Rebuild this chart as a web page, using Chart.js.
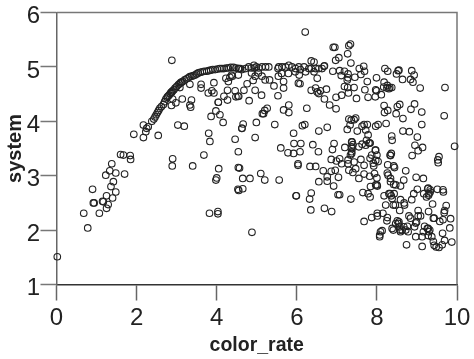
<!DOCTYPE html>
<html lang="en">
<head>
    <meta charset="UTF-8">
    <title>system by color_rate</title>
    <script src="https://cdn.jsdelivr.net/npm/chart.js"></script>
    <style>
        body { margin: 0; background: #fff; }
        #wrap { width: 474px; height: 359px; }
    </style>
</head>
<body>
    <div id="wrap"><canvas id="grafica"></canvas></div>
    <script>
        // values, [color_rate, system]
        const leftPoints = [[0.02,1.51],[0.68,2.31],[0.78,2.04],[0.90,2.75],[0.92,2.50],[0.94,2.50],[1.07,2.31],[1.15,2.53],[1.17,2.52],[1.25,2.63],[1.25,2.40],[1.29,2.47],[1.23,3.01],[1.33,3.09],[1.36,2.80],[1.38,3.22],[1.40,2.59],[1.42,2.89],[1.48,3.05],[1.48,2.70],[1.60,3.39],[1.67,3.38],[1.70,3.03],[1.84,3.37],[1.85,3.30],[1.93,3.76],[2.17,3.93],[2.17,3.70]];
        const curvePoints = [[2.23,3.81],[2.25,3.87],[2.29,3.90],[2.38,4.0],[2.43,4.04],[2.46,4.08],[2.49,4.12],[2.52,4.16],[2.55,4.2],[2.58,4.24],[2.62,4.27],[2.67,4.31],[2.7,4.36],[2.73,4.41],[2.76,4.44],[2.78,4.46],[2.81,4.48],[2.84,4.51],[2.86,4.53],[2.88,4.54],[2.9,4.56],[2.93,4.58],[2.96,4.61],[3.0,4.64],[3.04,4.67],[3.07,4.69],[3.1,4.71],[3.12,4.72],[3.15,4.73],[3.2,4.76],[3.25,4.78],[3.29,4.8],[3.33,4.82],[3.38,4.83],[3.42,4.84],[3.46,4.85],[3.5,4.87],[3.54,4.89],[3.59,4.9],[3.64,4.91],[3.69,4.92],[3.75,4.92],[3.8,4.93],[3.85,4.94],[3.9,4.95],[3.96,4.95],[4.02,4.96],[4.08,4.97],[4.13,4.97],[4.18,4.97],[4.24,4.98],[4.29,4.98],[4.35,4.99],[4.42,4.99],[4.48,4.98],[4.54,4.97]];
        const bandPoints = [[4.55,4.97],[4.59,4.97],[4.63,4.95],[4.72,4.97],[4.80,5.0],[4.86,4.98],[4.93,5.03],[4.94,4.98],[4.99,5.0],[5.05,4.98],[5.13,5.0],[5.22,5.0],[5.30,5.0],[5.53,4.97],[5.55,5.0],[5.63,5.0],[5.72,5.0],[5.80,5.03],[5.88,5.0],[5.97,4.97],[6.05,5.0],[6.09,4.95],[6.18,5.0],[6.30,4.97],[6.36,4.97],[6.47,4.97],[6.55,4.97],[6.63,4.97],[6.69,5.02],[4.37,4.85],[4.54,4.85],[4.87,4.89],[4.96,4.83],[5.04,4.89],[5.13,4.83],[5.21,4.76],[5.54,4.83],[5.62,4.88],[5.79,4.88],[5.96,4.91],[6.04,4.70],[6.06,4.85],[6.22,4.91],[6.43,4.91],[6.51,4.79]];
        const midPoints = [[2.88,5.12],[2.54,3.74],[3.03,3.93],[3.19,3.91],[2.90,3.31],[2.89,3.18],[3.40,3.18],[3.68,3.38],[3.80,3.78],[3.83,3.63],[4.05,3.13],[4.0,2.96],[4.46,3.67],[4.54,3.44],[4.54,3.15],[4.63,3.87],[4.16,3.98],[3.86,4.09],[4.08,4.12],[3.98,4.19],[4.04,4.35],[4.04,4.35],[3.35,4.26],[3.33,4.30],[3.37,4.39],[3.14,4.41],[2.98,4.34],[2.87,4.29],[2.90,4.41],[3.33,4.68],[3.08,4.62],[3.61,4.68],[3.61,4.61],[3.79,4.52],[3.88,4.56],[3.93,4.52],[3.93,4.71],[4.18,4.46],[4.27,4.39],[4.27,4.57],[4.46,4.56],[4.48,4.45],[4.53,4.46],[4.29,4.73],[4.23,4.79],[4.39,4.83],[4.33,4.81],[3.82,2.31],[4.03,2.34],[4.03,2.30],[4.53,2.75],[3.98,2.92],[4.88,1.96],[4.65,2.76],[4.55,2.73],[5.12,4.48],[4.96,4.57],[4.81,4.38],[4.68,4.57],[4.76,4.69],[4.91,4.75],[4.55,4.46],[5.26,4.24],[5.20,4.20],[5.14,4.14],[5.17,4.14],[5.67,4.21],[5.80,4.30],[5.80,4.16],[6.25,4.24],[4.99,3.98],[4.66,3.95],[4.63,3.87],[5.45,3.94],[4.96,3.70],[6.14,3.92],[6.20,3.94],[5.92,3.78],[6.55,3.82],[6.76,3.89],[5.93,3.59],[6.10,3.59],[5.60,3.51],[5.78,3.42],[5.92,3.41],[6.08,3.44],[6.40,3.57],[6.54,3.44],[6.93,3.59],[6.89,3.48],[4.57,3.14],[5.10,3.04],[4.65,2.95],[4.83,2.95],[5.20,2.92],[5.56,2.92],[6.03,3.22],[6.03,3.19],[6.33,3.17],[6.47,3.17],[6.08,4.69],[5.67,4.73],[5.67,4.61],[5.53,4.47],[5.43,4.65],[5.32,4.76]];
        const upperPoints = [[6.21,5.64],[6.91,5.36],[6.95,5.36],[7.30,5.39],[7.34,5.42],[7.27,5.24],[6.97,5.12],[7.05,5.17],[7.35,5.07],[6.36,5.11],[6.43,5.09],[6.68,5.01],[6.90,4.92],[7.07,4.93],[7.19,4.92],[7.11,4.84],[7.28,4.87],[7.28,4.80],[7.26,4.76],[7.45,4.81],[7.56,4.97],[7.67,5.01],[7.69,4.92],[7.60,4.86],[7.76,4.73],[7.99,4.80],[8.20,4.97],[8.27,4.92],[8.53,4.93],[8.55,4.94],[8.49,4.87],[8.64,4.77],[8.87,4.93],[8.93,4.85],[8.84,4.77],[8.90,4.72],[9.08,4.61],[9.70,4.62],[8.18,4.72],[8.26,4.66],[8.32,4.62],[8.37,4.62],[8.30,4.60],[8.25,4.61],[8.17,4.63],[8.11,4.49],[7.97,4.58],[7.99,4.56],[7.96,4.45],[7.78,4.44],[7.70,4.58],[7.49,4.42],[7.43,4.62],[7.29,4.52],[7.19,4.64],[7.27,4.62],[7.12,4.48],[6.98,4.44],[6.74,4.59],[6.59,4.56],[6.55,4.51],[6.51,4.54],[6.47,4.61],[6.36,4.57],[6.69,4.41],[6.82,4.30],[6.98,4.23]];
        const rightPoints = [[7.30,4.04],[7.36,4.02],[7.43,4.03],[7.47,4.06],[7.33,3.93],[7.26,3.85],[7.51,3.82],[7.63,3.91],[7.68,3.94],[7.76,3.94],[7.72,3.84],[7.78,3.75],[7.74,3.65],[7.80,3.60],[7.83,3.60],[7.72,3.56],[7.97,3.91],[8.03,3.94],[8.23,3.96],[8.18,4.29],[8.19,4.16],[8.27,4.20],[8.51,4.27],[8.57,4.31],[8.48,4.14],[8.65,4.05],[8.85,4.22],[8.94,4.32],[9.12,4.17],[9.12,3.94],[8.65,3.82],[8.81,3.81],[9.01,3.71],[9.68,4.10],[8.37,3.73],[8.38,3.65],[8.95,3.56],[9.14,3.52],[9.03,3.46],[8.88,3.37],[9.94,3.54],[9.55,3.35],[9.52,3.29],[9.53,3.24],[7.20,3.52],[7.38,3.62],[7.40,3.57],[7.38,3.50],[7.37,3.41],[7.34,3.38],[7.55,3.53],[7.63,3.58],[6.86,3.30],[6.99,3.27],[7.07,3.31],[7.12,3.22],[7.28,3.29],[7.28,3.22],[7.43,3.25],[7.47,3.13],[7.40,3.06],[7.30,3.10],[6.66,3.09],[6.86,3.08],[6.96,3.10],[6.76,2.98],[7.04,2.97],[7.97,3.47],[8.0,3.38],[7.87,3.38],[7.83,3.32],[7.97,3.28],[8.03,3.26],[7.91,3.23],[7.92,3.18],[7.68,3.19],[7.60,3.30],[8.36,3.41],[8.34,3.37],[8.27,3.20],[8.42,3.18],[8.44,3.15],[8.72,3.09],[7.94,3.04],[7.82,2.99],[7.68,3.03],[7.55,2.95],[8.0,2.96],[8.26,3.05],[8.28,3.01],[8.34,2.95],[8.67,2.92],[8.98,2.97],[9.16,2.95],[7.37,3.62],[7.37,3.53],[7.37,3.44],[7.82,3.60],[8.33,3.38],[7.96,3.47]];
        const lowerPoints = [[5.98,2.63],[5.99,2.63],[6.36,2.68],[6.32,2.57],[6.35,2.37],[7.03,2.65],[7.07,2.65],[7.35,2.57],[6.69,2.40],[6.87,2.34],[6.55,2.89],[6.92,2.81],[6.76,2.90],[7.65,2.69],[7.78,2.67],[7.83,2.61],[7.84,2.80],[7.97,2.83],[8.01,2.81],[8.18,2.63],[8.30,2.67],[8.36,2.63],[8.43,2.67],[8.38,2.58],[8.41,2.46],[8.22,2.46],[8.15,2.31],[8.01,2.31],[7.87,2.23],[7.68,2.16],[8.01,2.26],[8.47,2.83],[8.59,2.81],[8.34,2.89],[8.42,2.84],[8.26,2.23],[8.25,2.17],[8.13,1.99],[8.09,1.97],[8.07,1.91],[8.07,1.88],[8.57,2.36],[8.59,2.56],[8.68,2.50],[8.69,2.46],[8.87,2.56],[8.92,2.67],[9.01,2.75],[9.17,2.67],[9.28,2.77],[9.33,2.74],[9.30,2.67],[9.24,2.61],[9.51,2.75],[9.65,2.74],[9.66,2.70],[9.39,2.48],[9.73,2.45],[9.69,2.36],[9.68,2.32],[9.29,2.34],[9.03,2.36],[9.09,2.26],[9.03,2.26],[8.80,2.26],[8.84,2.22],[9.84,2.21],[9.82,2.04],[9.64,1.94],[9.69,1.81],[9.87,1.78],[9.57,2.16],[9.65,2.19],[9.43,2.22],[9.41,2.22],[9.19,2.07],[9.26,2.03],[9.32,2.0],[9.30,1.97],[8.97,2.13],[8.99,2.15],[8.94,2.06],[8.76,2.07],[8.78,1.97],[8.72,2.0],[8.63,2.0],[8.59,1.97],[8.51,2.17],[8.55,2.15],[8.47,2.12],[8.38,2.03],[8.41,2.0],[8.57,2.06],[8.97,1.88],[9.13,1.88],[9.28,1.90],[9.37,1.88],[9.16,1.97],[9.41,1.79],[9.43,1.72],[9.48,1.69],[9.55,1.68],[9.63,1.73],[9.13,1.70],[8.74,1.73],[9.27,2.76],[9.33,2.70],[9.29,2.64],[8.33,2.67],[8.46,2.46],[9.28,2.03],[8.54,2.12],[8.67,2.06],[8.58,2.0],[8.0,2.83]];

        const xTitle = 'color_rate';
        const yTitle = 'system';
        const tickFont = { family: '"Liberation Sans", Arial, sans-serif', size: 24 };

        const puntos = [leftPoints, curvePoints, bandPoints, midPoints, upperPoints, rightPoints, lowerPoints]
            .flat().map(([x, y]) => ({ x, y }));

        // top and right edge of the frame, and the y numbers, which sit a little below their ticks
        const marco = {
            id: 'marco',
            beforeDatasetsDraw(chart) {
                const { ctx, chartArea: a, scales } = chart;
                ctx.save();
                ctx.strokeStyle = '#777';
                ctx.lineWidth = 1.5;
                ctx.beginPath();
                ctx.moveTo(a.left, a.top);
                ctx.lineTo(a.right, a.top);
                ctx.lineTo(a.right, a.bottom);
                ctx.stroke();
                ctx.fillStyle = '#222';
                ctx.font = '24px "Liberation Sans", Arial, sans-serif';
                ctx.textAlign = 'right';
                ctx.textBaseline = 'middle';
                scales.y.ticks.forEach(t => {
                    ctx.fillText(String(t.value), a.left - 16.5, scales.y.getPixelForValue(t.value) + 4);
                });
                ctx.restore();
            }
        };

        new Chart(document.getElementById('grafica'), {
            type: 'scatter',
            data: {
                datasets: [{
                    data: puntos,
                    pointStyle: 'circle',
                    pointRadius: 3.3,
                    pointBorderWidth: 1.1,
                    pointBorderColor: '#222',
                    pointBackgroundColor: 'transparent',
                    clip: false
                }]
            },
            plugins: [marco],
            options: {
                responsive: true,
                maintainAspectRatio: false,
                animation: false,
                layout: { padding: { top: 12.5, right: 17, bottom: 0, left: 0 } },
                plugins: { legend: { display: false }, tooltip: { enabled: false } },
                scales: {
                    x: {
                        min: 0, max: 10,
                        afterFit(s) { s.height = 359 - 284.5; },
                        ticks: { stepSize: 2, maxRotation: 0, color: '#222', font: tickFont, padding: 3 },
                        grid: { drawOnChartArea: false, tickLength: 16, tickColor: '#666', tickWidth: 1.5 },
                        border: { color: '#333', width: 1.5 },
                        title: { display: true, text: xTitle, color: '#222', font: { family: tickFont.family, size: 19.5, weight: 'bold' }, padding: { top: 1, bottom: 2 } }
                    },
                    y: {
                        min: 1, max: 6,
                        afterFit(s) { s.width = 56.5; },
                        ticks: { stepSize: 1, display: false },
                        grid: { drawOnChartArea: false, tickLength: 16, tickColor: '#777', tickWidth: 1.5 },
                        border: { color: '#666', width: 1.5 },
                        title: { display: true, text: yTitle, color: '#222', font: { family: tickFont.family, size: 20, weight: 'bold' }, padding: { top: 3, bottom: 0 } }
                    }
                }
            }
        });
    </script>
</body>
</html>
